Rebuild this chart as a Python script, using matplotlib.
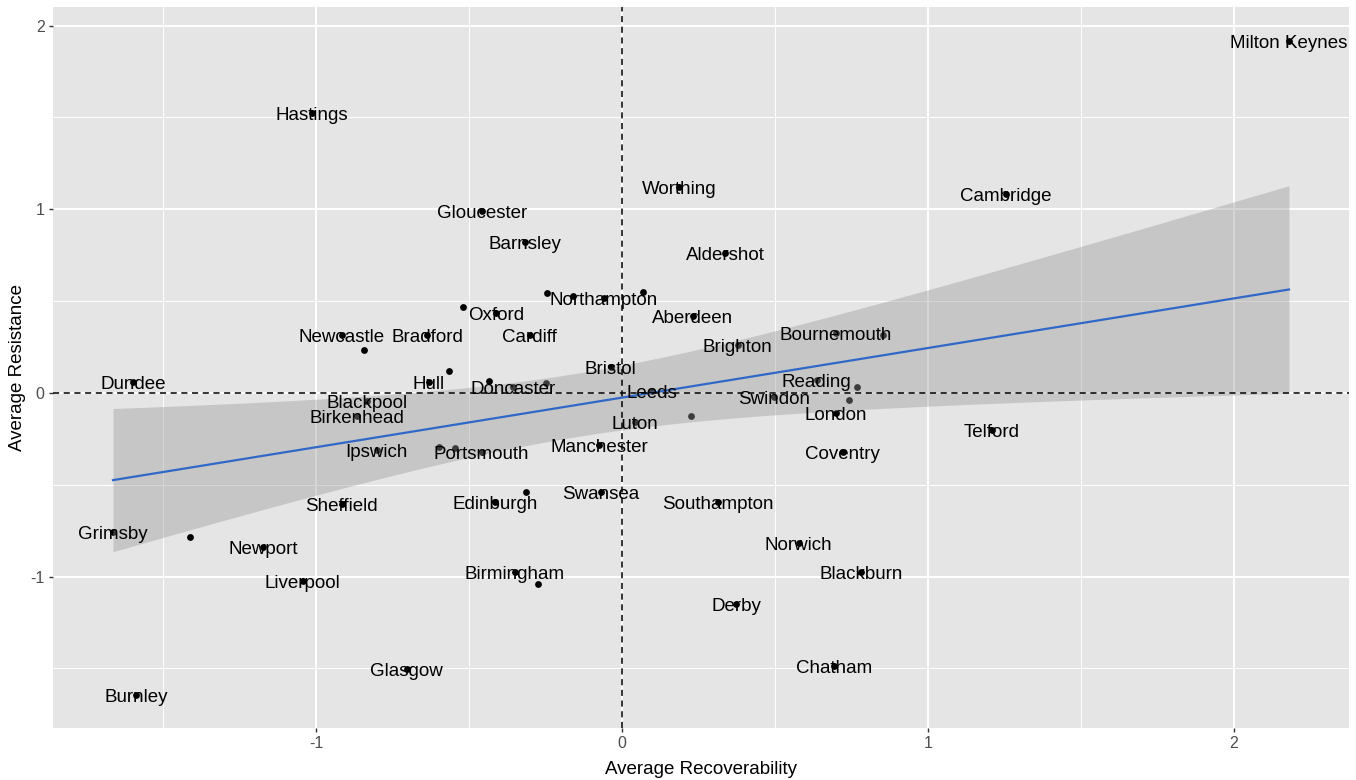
import matplotlib.pyplot as plt
import numpy as np

plt.rcParams['font.family'] = ['Liberation Sans', 'DejaVu Sans']
plt.rcParams['axes.unicode_minus'] = False

# average recoverability / resistance scores per city ('' = point drawn without a label)
cities = [
    'Milton Keynes', 'Hastings', 'Gloucester', 'Worthing', 'Barnsley', 'Aldershot',
    'Cambridge', 'Newcastle', '', 'Bradford', '', 'Dundee', 'Hull', 'Blackpool',
    'Birkenhead', 'Ipswich', '', '', 'Portsmouth', 'Sheffield', 'Grimsby', '',
    'Newport', 'Liverpool', 'Glasgow', 'Burnley', '', '', 'Northampton', '',
    'Oxford', '', 'Cardiff', 'Aberdeen', 'Bournemouth', '', 'Brighton', 'Bristol',
    '', 'Doncaster', '', 'Leeds', 'Luton', '', 'Manchester', 'Reading', '',
    'Swindon', '', 'London', 'Coventry', 'Swansea', 'Edinburgh', '', 'Southampton',
    'Norwich', 'Blackburn', 'Birmingham', '', 'Derby', 'Chatham', 'Telford',
]
recoverability = [
    2.180, -1.013, -0.458, 0.186, -0.317, 0.337,
    1.255, -0.915, -0.843, -0.637, -0.565, -1.598, -0.631, -0.833,
    -0.866, -0.801, -0.598, -0.546, -0.458, -0.915, -1.663, -1.412,
    -1.173, -1.043, -0.703, -1.588, -0.245, -0.160, -0.059, 0.069,
    -0.412, -0.520, -0.301, 0.232, 0.699, 0.853, 0.379, -0.036,
    -0.435, -0.356, -0.248, 0.098, 0.042, 0.225, -0.075, 0.637, 0.768,
    0.497, 0.742, 0.699, 0.722, -0.069, -0.415, -0.314, 0.314,
    0.578, 0.781, -0.350, -0.275, 0.373, 0.693, 1.209,
]
resistance = [
    1.916, 1.524, 0.991, 1.121, 0.822, 0.762,
    1.083, 0.316, 0.234, 0.316, 0.120, 0.060, 0.060, -0.044,
    -0.125, -0.310, -0.294, -0.299, -0.321, -0.604, -0.757, -0.784,
    -0.838, -1.023, -1.502, -1.644, 0.544, 0.528, 0.517, 0.550,
    0.435, 0.468, 0.316, 0.419, 0.327, 0.316, 0.261, 0.142,
    0.065, 0.033, 0.054, 0.011, -0.158, -0.125, -0.283, 0.071, 0.033,
    -0.022, -0.038, -0.109, -0.321, -0.539, -0.593, -0.539, -0.593,
    -0.817, -0.974, -0.974, -1.040, -1.149, -1.486, -0.201,
]

x = np.array(recoverability)
y = np.array(resistance)

# linear fit with 95% confidence band
n = len(x)
b, a = np.polyfit(x, y, 1)
resid = y - (a + b * x)
s = np.sqrt(np.sum(resid ** 2) / (n - 2))
sxx = np.sum((x - x.mean()) ** 2)
t_crit = 2.0  # t(0.975, n-2), n ~ 60
xs = np.linspace(x.min(), x.max(), 80)
ys = a + b * xs
se = s * np.sqrt(1 / n + (xs - x.mean()) ** 2 / sxx)

fig = plt.figure(figsize=(13.56, 7.8), dpi=100)
ax = fig.add_axes([0.0391, 0.0667, 0.9557, 0.9243])
ax.set_facecolor('#E5E5E5')

ax.scatter(x, y, s=24, color='black', zorder=3, linewidths=0)
ax.fill_between(xs, ys - t_crit * se, ys + t_crit * se, color='#999999', alpha=0.4,
                linewidth=0, zorder=4)
ax.plot(xs, ys, color='#3068C8', lw=1.6, zorder=5)
ax.axhline(0, color='black', lw=1.1, linestyle=(0, (4, 3)), zorder=6)
ax.axvline(0, color='black', lw=1.1, linestyle=(0, (4, 3)), zorder=6)

for name, xi, yi in zip(cities, x, y):
    if name:
        ax.annotate(name, (xi, yi), xytext=(0, -2), textcoords='offset points',
                    ha='center', va='center', fontsize=13.5, color='black', zorder=7)

ax.set_xlim(-1.859, 2.376)
ax.set_ylim(-1.824, 2.101)
ax.set_xticks([-1, 0, 1, 2])
ax.set_yticks([-1, 0, 1, 2])
ax.set_xticks([-1.5, -0.5, 0.5, 1.5], minor=True)
ax.set_yticks([-1.5, -0.5, 0.5, 1.5], minor=True)
ax.grid(which='major', color='white', lw=1.4, zorder=0)
ax.grid(which='minor', color='white', lw=0.7, zorder=0)
ax.set_axisbelow(True)
for sp in ax.spines.values():
    sp.set_visible(False)
ax.tick_params(which='major', length=3, width=1, color='#333333', labelsize=11.5,
               labelcolor='#4D4D4D', pad=3)
ax.tick_params(which='minor', length=0)

ax.set_xlabel('Average Recoverability', fontsize=13.5, labelpad=7)
ax.set_ylabel('Average Resistance', fontsize=13.5, labelpad=3)

fig.savefig('out.png', dpi=100)
plt.close(fig)
